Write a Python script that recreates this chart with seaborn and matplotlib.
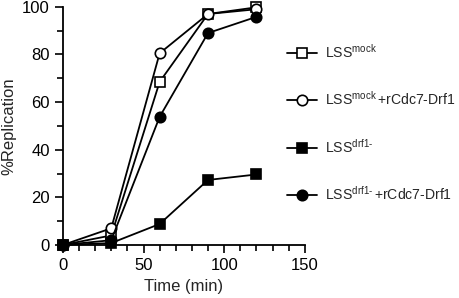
import pandas as pd
import seaborn as sns
import matplotlib.pyplot as plt
from matplotlib.ticker import MultipleLocator

time_min = [0, 30, 60, 90, 120]
lss_mock = [0, 4, 68.5, 97, 99.8]
lss_mock_cdc7 = [0, 7, 80.5, 97, 99]
lss_drf1 = [0, 0.8, 8.8, 27.3, 29.6]
lss_drf1_cdc7 = [0, 2, 53.8, 89, 95.8]

labels = [r"LSS$^{\mathrm{mock}}$",
          r"LSS$^{\mathrm{mock}}\,$+rCdc7-Drf1",
          r"LSS$^{\mathrm{drf1}\text{-}}$",
          r"LSS$^{\mathrm{drf1}\text{-}}\,$+rCdc7-Drf1"]

sns.set_style("ticks")
plt.rcParams['font.family'] = ['Liberation Sans', 'DejaVu Sans']
plt.rcParams['mathtext.fontset'] = 'custom'
plt.rcParams['mathtext.rm'] = 'Liberation Sans'
plt.rcParams['mathtext.it'] = 'Liberation Sans:italic'

series = [lss_mock, lss_mock_cdc7, lss_drf1, lss_drf1_cdc7]
stili = [('s', 'white'), ('o', 'white'), ('s', 'black'), ('o', 'black')]

fig = plt.figure(figsize=(4.59, 2.98), dpi=100)
ax = fig.add_axes([0.137, 0.178, 0.527, 0.799])

for valori, (marker, faccia), label in zip(series, stili, labels):
    df = pd.DataFrame({'Time': time_min, 'Rep': valori})
    sns.lineplot(data=df, x='Time', y='Rep', ax=ax, color='black', linewidth=1.3,
                 marker=marker, markersize=7.5, markerfacecolor=faccia,
                 markeredgecolor='black', markeredgewidth=1.2, label=label,
                 legend=False, clip_on=False, zorder=3)

ax.set_xlim(0, 150)
ax.set_ylim(0, 100)
ax.xaxis.set_major_locator(MultipleLocator(50))
ax.xaxis.set_minor_locator(MultipleLocator(10))
ax.yaxis.set_major_locator(MultipleLocator(20))
ax.yaxis.set_minor_locator(MultipleLocator(10))
ax.tick_params(which='major', length=6, width=1.2, labelsize=12, color='black', labelcolor='black')
ax.tick_params(which='minor', length=4, width=1.2, color='black')
for s in ['left', 'bottom']:
    ax.spines[s].set_linewidth(1.3)
    ax.spines[s].set_color('black')
sns.despine(ax=ax)
ax.set_xlabel('Time (min)', fontsize=12, labelpad=4)
ax.set_ylabel('%Replication', fontsize=12, labelpad=4)

handles, lbls = ax.get_legend_handles_labels()
fig.legend(handles, lbls, loc='upper left', bbox_to_anchor=(0.614, 0.875),
           frameon=False, fontsize=10.1, labelspacing=2.1, handlelength=2.1,
           handletextpad=0.6, borderaxespad=0)

plt.savefig('out.png', dpi=100)
plt.close()
